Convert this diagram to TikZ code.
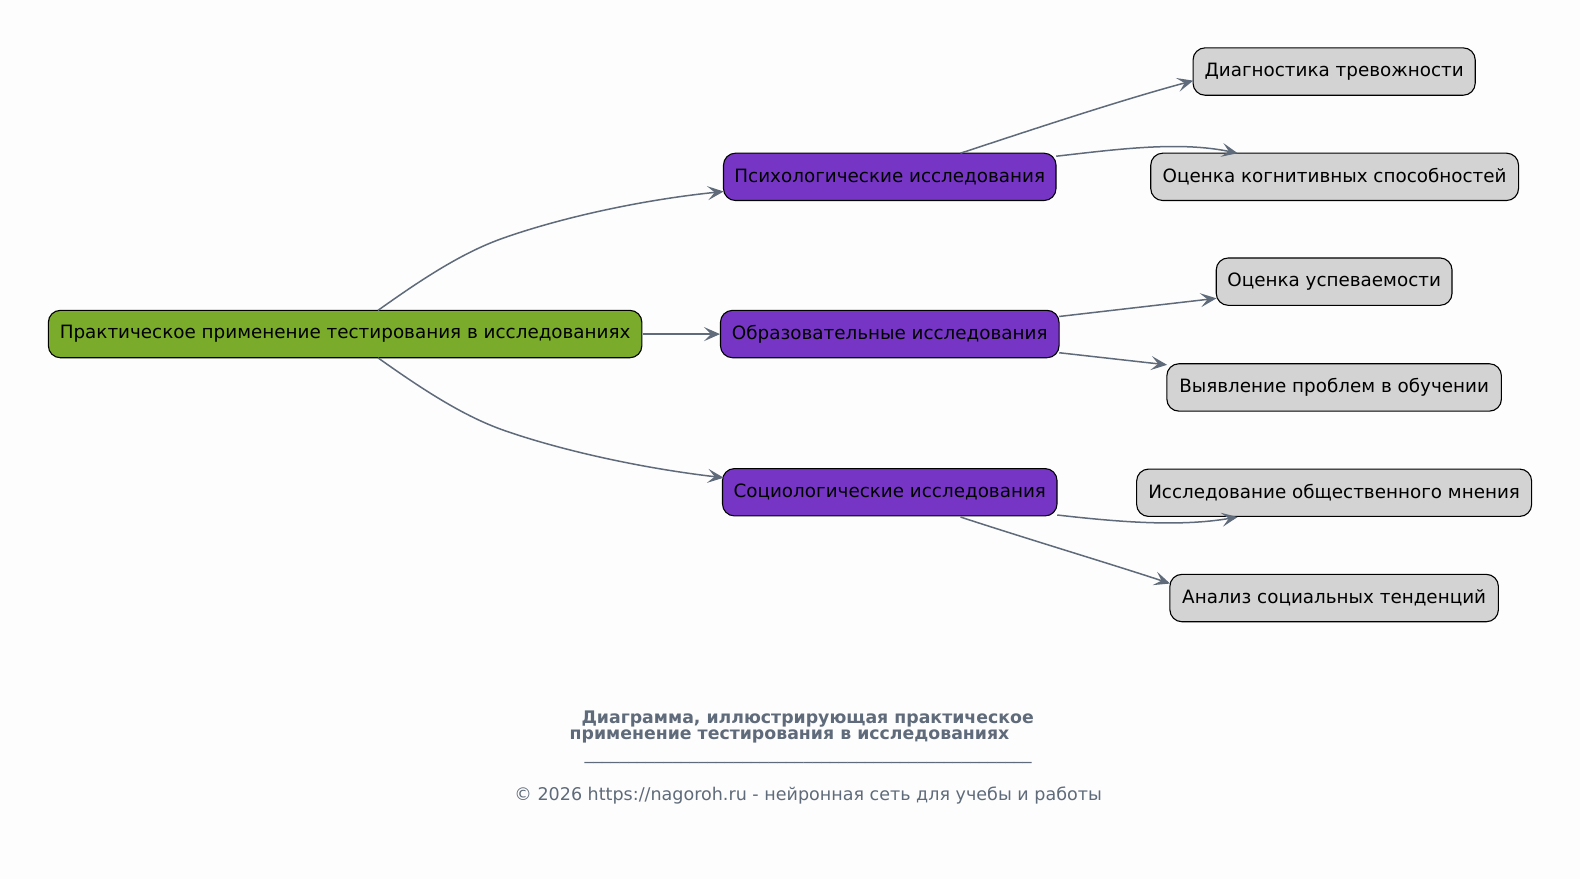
\documentclass[tikz,border=0pt]{standalone}
\usepackage{fontspec}
\setmainfont{DejaVu Sans}
\usetikzlibrary{arrows.meta}
\definecolor{bgc}{HTML}{FDFDFD}
\definecolor{rootc}{HTML}{7AAB2A}
\definecolor{midc}{HTML}{7735C6}
\definecolor{leafc}{HTML}{D3D3D3}
\definecolor{edgec}{HTML}{5F6B7A}
\tikzset{
  box/.style={draw=black, line width=1.1pt, rounded corners=12pt, minimum height=47pt, inner sep=0pt, font=\fontsize{18.2}{21}\selectfont, text=black},
  rootbox/.style={box, fill=rootc},
  midbox/.style={box, fill=midc},
  leafbox/.style={box, fill=leafc},
  conn/.style={draw=edgec, line width=1.5pt, -{Stealth[length=16pt,width=14pt,inset=7pt]}},
  captext/.style={text=edgec, font=\bfseries\fontsize{17.2}{20}\selectfont, inner sep=0pt},
  foottext/.style={text=edgec, font=\fontsize{17.4}{20}\selectfont, inner sep=0pt}
}
\begin{document}
\begin{tikzpicture}[x=1pt,y=-1pt,scale=1.0077,transform shape]
\fill[bgc] (0,0) rectangle (1568,872.3);
\useasboundingbox (0,0) rectangle (1568,872.3);

\node[rootbox, minimum width=589pt] (root) at (342.5,331.5) {Практическое применение тестирования в исследованиях};

\node[midbox, minimum width=330pt] (psy) at (883,175.5) {Психологические исследования};
\node[midbox, minimum width=336pt] (edu) at (883,331.5) {Образовательные исследования};
\node[midbox, minimum width=332pt] (soc) at (883,488.5) {Социологические исследования};

\node[leafbox, minimum width=280pt] (l1) at (1324,71) {Диагностика тревожности};
\node[leafbox, minimum width=365pt] (l2) at (1324.5,175.5) {Оценка когнитивных способностей};
\node[leafbox, minimum width=234pt] (l3) at (1324,279.5) {Оценка успеваемости};
\node[leafbox, minimum width=332pt] (l4) at (1324,384.5) {Выявление проблем в обучении};
\node[leafbox, minimum width=392pt] (l5) at (1324,489) {Исследование общественного мнения};
\node[leafbox, minimum width=326pt] (l6) at (1324,593.5) {Анализ социальных тенденций};

\coordinate (r1) at (375,308);
\coordinate (r3) at (375,355);
\coordinate (k1) at (500,236);
\coordinate (k3) at (500,427);
\coordinate (m1) at (718,190);
\coordinate (m3) at (718,474);
\draw[conn] (r1) .. controls (420,276) and (460,250) .. (k1) .. controls (560,215) and (640,198) .. (m1);
\draw[conn] (root.east) -- (edu.west);
\draw[conn] (r3) .. controls (420,387) and (460,413) .. (k3) .. controls (560,448) and (640,465) .. (m3);

\coordinate (p1) at (953,152);
\coordinate (p2) at (1048,155);
\coordinate (e1) at (1051,314);
\coordinate (e2) at (1051,350);
\coordinate (s1) at (1049,511);
\coordinate (s2) at (953,513);
\coordinate (t1) at (1184,80);
\coordinate (t2) at (1228,152);
\coordinate (t3) at (1207,296);
\coordinate (t4) at (1158,362);
\coordinate (t5) at (1228,513);
\coordinate (t6) at (1161,579);

\draw[conn] (p1) .. controls (1020,130) and (1110,100) .. (t1);
\draw[conn] (p2) .. controls (1110,148) and (1170,140) .. (t2);
\draw[conn] (e1) -- (t3);
\draw[conn] (e2) -- (t4);
\draw[conn] (s1) .. controls (1110,518) and (1170,523) .. (t5);
\draw[conn] (s2) .. controls (1020,535) and (1110,562) .. (t6);

\node[captext] (c1) at (801.5,714) {Диаграмма, иллюстрирующая практическое};
\node[captext] (c2) at (783.5,731) {применение тестирования в исследованиях};
\node[foottext] (c3) at (802,756) {\_\_\_\_\_\_\_\_\_\_\_\_\_\_\_\_\_\_\_\_\_\_\_\_\_\_\_\_\_\_\_\_\_\_\_\_\_\_\_\_\_\_\_\_\_\_\_\_\_\_\_};
\node[foottext] (c4) at (802,789) {© 2026 https://nagoroh.ru - нейронная сеть для учебы и работы};
\end{tikzpicture}
\end{document}
